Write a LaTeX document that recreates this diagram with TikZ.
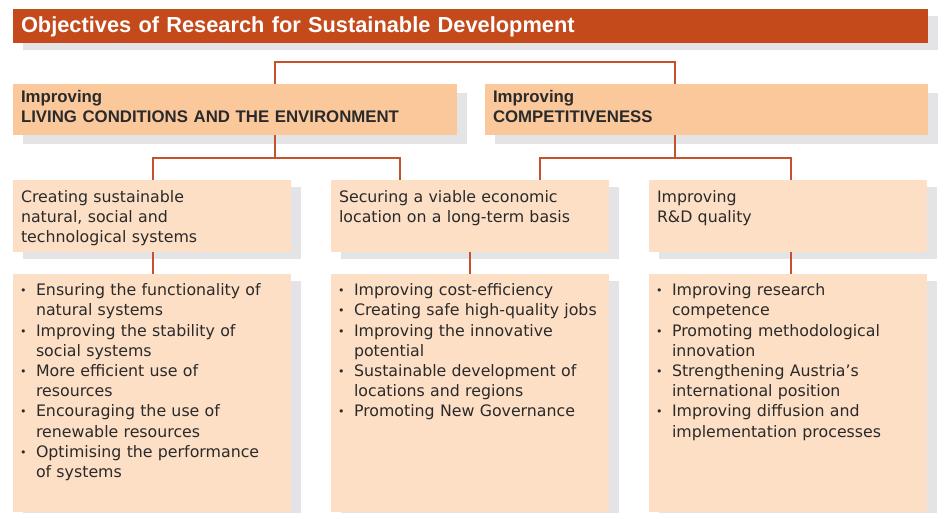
\documentclass[tikz,border=0pt]{standalone}
\usepackage{fontspec}
\setmainfont{DejaVu Sans}
\newfontfamily\headfont{Liberation Sans}
\usetikzlibrary{shadows}

\definecolor{titlered}{HTML}{C54A1B}
\definecolor{aimorange}{HTML}{FBC89C}
\definecolor{goalpeach}{HTML}{FDDFC6}
\definecolor{shadowgrey}{HTML}{E4E4E6}
\definecolor{linkred}{HTML}{C6522A}
\definecolor{txtgrey}{HTML}{2A2A2A}

\newcommand\bodyfont{\fontsize{15.8}{20.2}\selectfont}
\newcommand\itm{\hangindent=15pt\hangafter=1\makebox[15pt][l]{\hspace{-1pt}\raisebox{1pt}{\fontsize{11}{11}\selectfont\textbullet}}}

\tikzset{
  plain/.style={anchor=north west, inner xsep=8pt, inner ysep=0pt, outer sep=0pt, align=left},
  shade7/.style={drop shadow={shadow xshift=10pt, shadow yshift=-7pt, fill=shadowgrey, opacity=1}},
  headbar/.style={plain, shade7, fill=titlered, text=white,
    font=\headfont\bfseries\fontsize{21.8}{24}\selectfont,
    text width=899pt, text height=23.3pt, text depth=10.7pt},
  aimbox/.style={plain, fill=aimorange, text=txtgrey,
    drop shadow={shadow xshift=10pt, shadow yshift=-9pt, fill=shadowgrey, opacity=1},
    font=\headfont\bfseries\fontsize{16.8}{20}\selectfont,
    text width=#1, text height=18.7pt, text depth=32.3pt},
  goalbox/.style={plain, shade7, fill=goalpeach, text=txtgrey, font=\bodyfont,
    text width=262pt, text height=22.3pt, text depth=49.7pt},
  listbox/.style={plain, shade7, fill=goalpeach, text=txtgrey, font=\bodyfont,
    text width=262pt, text height=21.7pt, text depth=216.3pt},
  link/.style={draw=linkred, line width=1.8pt}
}

\begin{document}
\begin{tikzpicture}[x=1pt, y=1pt]
    \useasboundingbox (0,0) rectangle (943,-513);

    % title bar
    \node[headbar] (title) at (13,-9) {Objectives of Research for Sustainable Development};

    % first level
    \node[aimbox=428pt] (liv) at (13,-84) {Improving\\LIVING CONDITIONS AND THE ENVIRONMENT};
    \node[aimbox=427pt] (comp) at (485,-84) {Improving\\COMPETITIVENESS};

    % second level
    \node[goalbox] (cre) at (13,-180) {Creating sustainable\\natural, social and\\technological systems};
    \node[goalbox] (sec) at (331,-180) {Securing a viable economic\\location on a long-term basis};
    \node[goalbox] (rd) at (649,-180) {Improving\\R\&D quality};

    % lists
    \node[listbox] (crelist) at (13,-274) {\itm Ensuring the functionality of\newline natural systems\par
      \itm Improving the stability of\newline social systems\par
      \itm More efficient use of\newline resources\par
      \itm Encouraging the use of\newline renewable resources\par
      \itm Optimising the performance\newline of systems\par};
    \node[listbox] (seclist) at (331,-274) {\itm Improving cost-efficiency\par
      \itm Creating safe high-quality jobs\par
      \itm Improving the innovative\newline potential\par
      \itm Sustainable development of\newline locations and regions\par
      \itm Promoting New Governance\par};
    \node[listbox] (rdlist) at (649,-274) {\itm Improving research\newline competence\par
      \itm Promoting methodological\newline innovation\par
      \itm Strengthening Austria’s\newline international position\par
      \itm Improving diffusion and\newline implementation processes\par};

    % connectors
    \coordinate (ja) at (275,-62);
    \coordinate (jb) at (675,-62);
    \coordinate (jc) at (153,-158);
    \coordinate (jd) at (400,-158);
    \coordinate (je) at (540,-158);
    \coordinate (jf) at (791,-158);

    \draw[link] (liv.north -| ja) -- (ja) -- (jb) -- (comp.north -| jb);
    \draw[link] (liv.south -| ja) -- (ja |- jc);
    \draw[link] (cre.north -| jc) -- (jc) -- (jd) -- (sec.north -| jd);
    \draw[link] (comp.south -| jb) -- (jb |- je);
    \draw[link] (sec.north -| je) -- (je) -- (jf) -- (rd.north -| jf);

    \draw[link] (cre.south -| jc) -- (crelist.north -| jc);
    \draw[link] (sec.south) -- (seclist.north);
    \draw[link] (rd.south -| jf) -- (rdlist.north -| jf);
\end{tikzpicture}
\end{document}
